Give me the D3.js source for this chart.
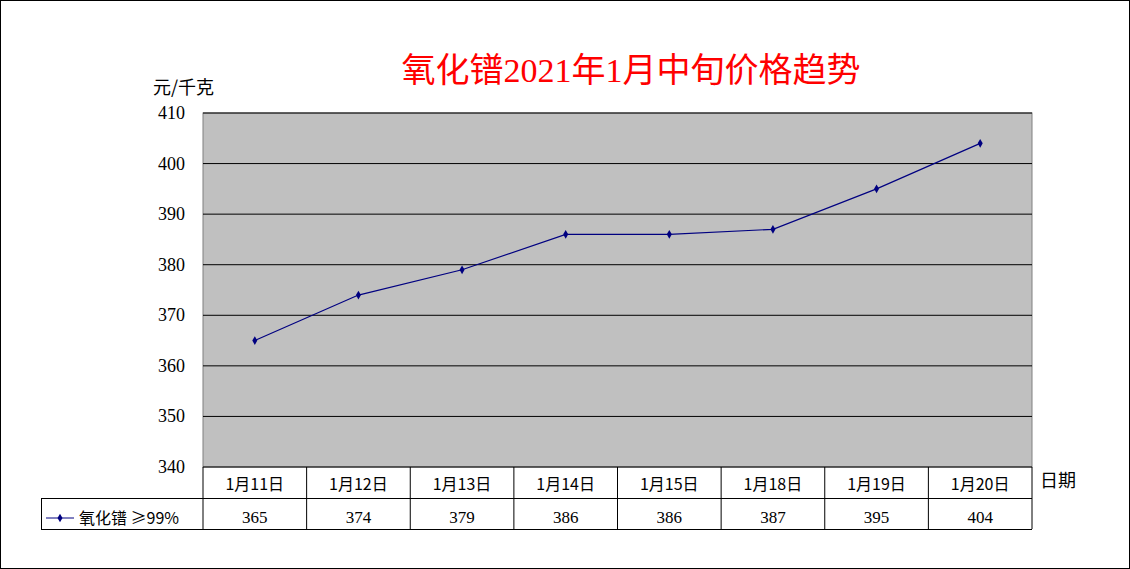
<!DOCTYPE html><html><head><meta charset="utf-8"><script src="https://cdn.jsdelivr.net/npm/d3@7"></script>
<style>body{margin:0;background:#fff}</style></head><body><svg id="c" width="1130" height="569"></svg><script>
const categories=["1月11日","1月12日","1月13日","1月14日","1月15日","1月18日","1月19日","1月20日"];
const values=[365,374,379,386,386,387,395,404];
const yTicks=[340,350,360,370,380,390,400,410];
const seriesName="氧化镨 ≥99%";
const svg=d3.select("#c");
const F="'Liberation Serif','Noto Sans CJK SC',serif";
svg.append("rect").attr("x",0.5).attr("y",0.5).attr("width",1129).attr("height",568).attr("fill","#fff").attr("stroke","#000");
const L=203,R=1032,T=113,B=467;
const x=d3.scaleBand().domain(categories).range([L,R]);
const y=d3.scaleLinear().domain([340,410]).range([B,T]);
svg.append("rect").attr("x",L).attr("y",T).attr("width",R-L).attr("height",B-T).attr("fill","#c0c0c0").attr("stroke","#808080");
svg.append("g").selectAll("line").data(yTicks).join("line").attr("x1",L).attr("x2",R).attr("y1",d=>y(d)).attr("y2",d=>y(d)).attr("stroke","#000");
svg.append("g").selectAll("text").data(yTicks).join("text").attr("x",L-18).attr("y",d=>y(d)+6).attr("text-anchor","end").attr("font-family",F).attr("font-size",18).text(d=>d);
svg.append("text").attr("x",153).attr("y",94).attr("font-family","'Noto Sans CJK SC'").attr("font-size",18).text("元/千克");
svg.append("text").attr("x",631).attr("y",82).attr("text-anchor","middle").attr("fill","#ff0000").attr("font-family",F).attr("font-size",34).text("氧化镨2021年1月中旬价格趋势");
svg.append("text").attr("x",1040).attr("y",487).attr("font-family","'Noto Sans CJK SC'").attr("font-size",18).text("日期");
const line=d3.line().x((d,i)=>x(categories[i])+x.bandwidth()/2).y(d=>y(d));
svg.append("path").attr("d",line(values)).attr("fill","none").attr("stroke","#000080").attr("stroke-width",1.2);
const sym=d3.symbol().type(d3.symbolDiamond).size(22);
svg.append("g").selectAll("path").data(values).join("path").attr("transform",(d,i)=>`translate(${x(categories[i])+x.bandwidth()/2},${y(d)})`).attr("d",sym).attr("fill","#000080");
// table
const tb=svg.append("g").attr("stroke","#000").attr("fill","none");
tb.append("line").attr("x1",41).attr("x2",R).attr("y1",498.5).attr("y2",498.5);
tb.append("line").attr("x1",41).attr("x2",R).attr("y1",529.5).attr("y2",529.5);
tb.append("line").attr("x1",41.5).attr("x2",41.5).attr("y1",498).attr("y2",529);
tb.selectAll("line.v").data(categories.concat(["end"])).join("line").attr("class","v")
 .attr("x1",(d,i)=>i<categories.length?x(d):R).attr("x2",(d,i)=>i<categories.length?x(d):R).attr("y1",B).attr("y2",529);
svg.append("g").selectAll("text").data(categories).join("text").attr("x",d=>x(d)+x.bandwidth()/2).attr("y",490).attr("text-anchor","middle").attr("font-family","'Noto Sans CJK SC'").attr("font-size",16).text(d=>d);
svg.append("g").selectAll("text").data(values).join("text").attr("x",(d,i)=>x(categories[i])+x.bandwidth()/2).attr("y",523).attr("text-anchor","middle").attr("font-family",F).attr("font-size",17).text(d=>d);
svg.append("line").attr("x1",46).attr("x2",74).attr("y1",518).attr("y2",518).attr("stroke","#000080");
svg.append("path").attr("transform","translate(60,518)").attr("d",sym).attr("fill","#000080");
svg.append("text").attr("x",79).attr("y",524).attr("font-family","'Noto Sans CJK SC'").attr("font-size",16).text(seriesName);
</script></body></html>
